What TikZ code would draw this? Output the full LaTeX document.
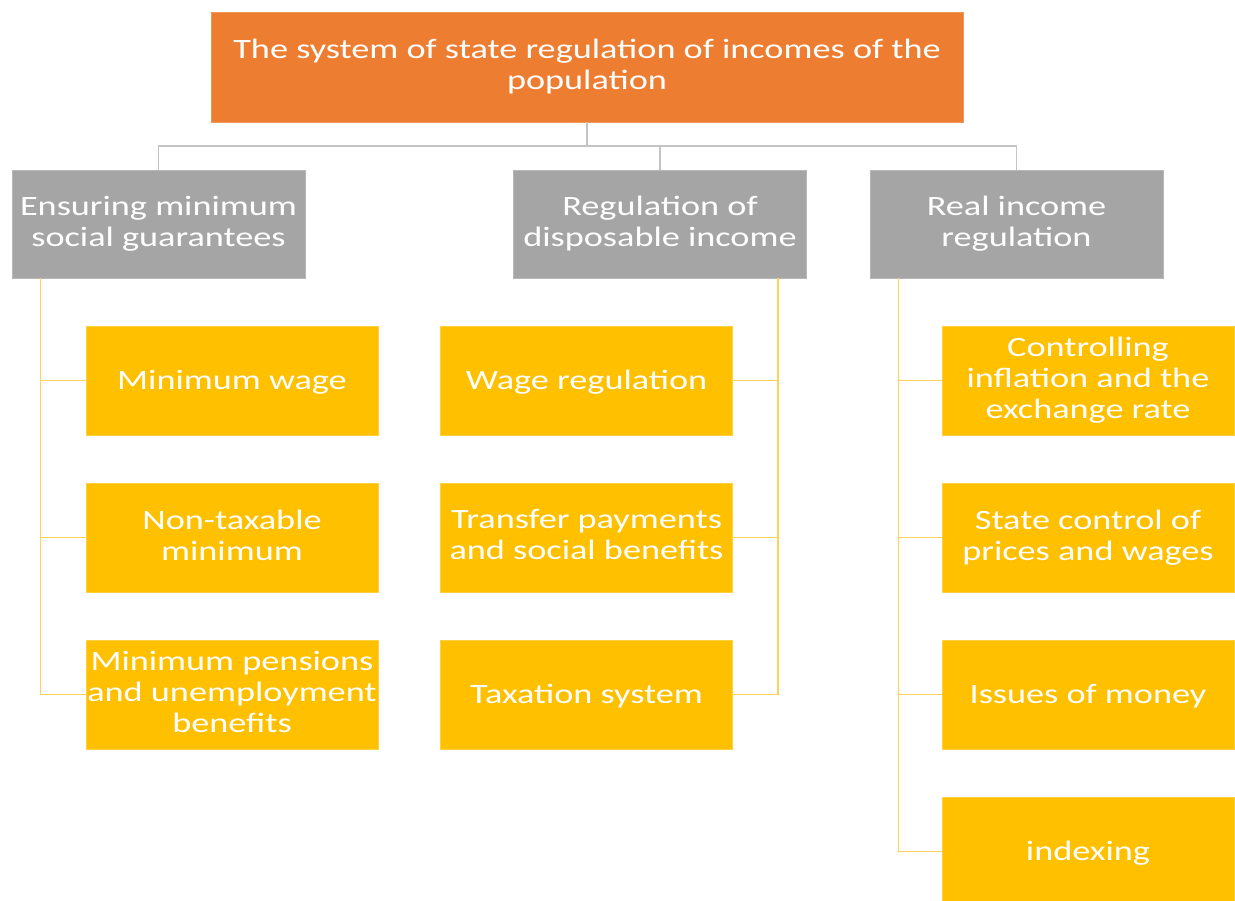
\documentclass[tikz,border=0pt]{standalone}
\usepackage{fontspec}
\setmainfont{Carlito}[FakeStretch=1.295]
\definecolor{topfill}{HTML}{ED7D31}
\definecolor{midfill}{HTML}{A5A5A5}
\definecolor{leaffill}{HTML}{FFC000}
\definecolor{trunkline}{HTML}{C4C4C4}
\definecolor{branchline}{HTML}{FFD35A}

% fixed first-line height and last-line depth, so every label sits alike
\newcommand{\boxstrut}{\rule[-5.4pt]{0pt}{28.4pt}}

\begin{document}
\begin{tikzpicture}[x=1pt,y=-1pt,
  box/.style={rectangle, inner sep=0pt, align=center, text=white,
    font=\fontsize{28}{31}\selectfont, line width=0.8pt,
    execute at begin node=\boxstrut, execute at end node=\boxstrut},
  topbox/.style={box, fill=topfill, draw=topfill!80!white,
    minimum width=752pt, minimum height=110pt},
  midbox/.style={box, fill=midfill, draw=midfill!80!white,
    minimum width=293pt, minimum height=108pt},
  leafbox/.style={box, fill=leaffill, draw=leaffill!75!white,
    minimum width=292pt, minimum height=109pt},
  trunk/.style={draw=trunkline, line width=1.5pt},
  branch/.style={draw=branchline, line width=1.3pt}]
\useasboundingbox (0,0) rectangle (1235,901);

% root
\node[topbox] (root) at (587,67) {The system of state regulation of incomes of the\\population};

% second level
\node[midbox] (g1) at (158.5,224) {Ensuring minimum\\social guarantees};
\node[midbox] (g2) at (660,224) {Regulation of\\disposable income};
\node[midbox] (g3) at (1016.5,224) {Real income\\regulation};

% leaves, first column
\node[leafbox] (a1) at (232,380.5) {Minimum wage};
\node[leafbox] (a2) at (232,537.5) {Non-taxable\\minimum};
\node[leafbox] (a3) at (232,694.5) {Minimum pensions\\and unemployment\\benefits};

% leaves, second column
\node[leafbox] (b1) at (586.5,380.5) {Wage regulation};
\node[leafbox] (b2) at (586.5,537.5) {Transfer payments\\and social benefits};
\node[leafbox] (b3) at (586.5,694.5) {Taxation system};

% leaves, third column
\node[leafbox] (c1) at (1088,380.5) {Controlling\\inflation and the\\exchange rate};
\node[leafbox] (c2) at (1088,537.5) {State control of\\prices and wages};
\node[leafbox] (c3) at (1088,694.5) {Issues of money};
\node[leafbox] (c4) at (1088,851.5) {indexing};

% root to second level
\coordinate (bus) at (587,146);
\draw[trunk] (root.south) -- (root.south |- bus) -| (g1.north);
\draw[trunk] (root.south |- bus) -| (g2.north);
\draw[trunk] (root.south |- bus) -| (g3.north);

% spines to leaves
\coordinate (s1) at ([xshift=29pt]g1.south west);
\coordinate (s2) at ([xshift=-29pt]g2.south east);
\coordinate (s3) at ([xshift=29pt]g3.south west);
\foreach \n in {a1,a2,a3} \draw[branch] (s1) |- (\n.west);
\foreach \n in {b1,b2,b3} \draw[branch] (s2) |- (\n.east);
\foreach \n in {c1,c2,c3,c4} \draw[branch] (s3) |- (\n.west);
\end{tikzpicture}
\end{document}
